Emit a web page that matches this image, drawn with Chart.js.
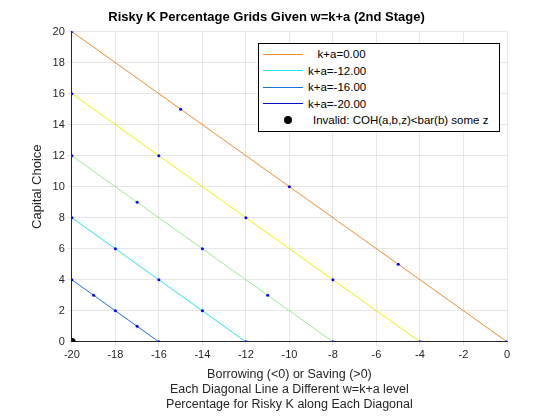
<!DOCTYPE html>
<html><head><meta charset="utf-8">
<script src="https://cdn.jsdelivr.net/npm/chart.js@4"></script>
<style>
body{margin:0;background:#fff;font-family:Arial,"Liberation Sans",sans-serif;}
#wrap{position:relative;width:560px;height:420px;}
#legend{position:absolute;left:258px;top:43px;width:240px;border:1px solid #000;background:#fff;font-size:11.5px;padding:2px 0;}
#legend div{height:16.5px;line-height:16.5px;display:flex;align-items:center;}
#legend .ln{display:inline-block;width:40px;height:0;border-top:1px solid;margin:0 5px 0 4px;}
#legend .dt{display:inline-block;width:8px;height:8px;border-radius:50%;background:#000;margin:0 21px 0 25px;}
</style></head><body>
<div id="wrap"><canvas id="c" width="560" height="420"></canvas>
<div id="legend">
<div><span class="ln" style="border-color:#ed8c2c"></span>&nbsp;&nbsp;&nbsp;k+a=0.00</div>
<div><span class="ln" style="border-color:#22e0e8"></span>k+a=-12.00</div>
<div><span class="ln" style="border-color:#1a6fdc"></span>k+a=-16.00</div>
<div><span class="ln" style="border-color:#0010c8"></span>k+a=-20.00</div>
<div><span class="dt"></span>Invalid: COH(a,b,z)&lt;bar(b) some z</div>
</div></div>
<script>
// one diagonal per w=k+a level; points where risky K share sits
const levels = [0, -4, -8, -12, -16];
const lineColors = ['#ed8c2c', '#f0f000', '#90f090', '#22e0e8', '#1a6fdc'];
const gridB = [
  [-20, -15, -10, -5, 0],
  [-20, -16, -12, -8, -4],
  [-20, -17, -14, -11, -8],
  [-20, -18, -16, -14, -12],
  [-20, -19, -18, -17, -16]
];
const gridK = [
  [20, 15, 10, 5, 0],
  [16, 12, 8, 4, 0],
  [12, 9, 6, 3, 0],
  [8, 6, 4, 2, 0],
  [4, 3, 2, 1, 0]
];
const invalidB = [-20];
const invalidK = [0];

const datasets = [];
levels.forEach((w, i) => {
  datasets.push({
    type: 'line',
    data: gridB[i].map((b, j) => ({x: b, y: gridK[i][j]})),
    borderColor: lineColors[i], borderWidth: 1,
    pointRadius: 1.5, pointBackgroundColor: '#0000ff', pointBorderWidth: 0,
    fill: false, tension: 0
  });
});
datasets.push({
  type: 'scatter',
  data: invalidB.map((b, j) => ({x: b, y: invalidK[j]})),
  pointRadius: 3.5, backgroundColor: '#000', borderColor: '#000'
});

new Chart(document.getElementById('c'), {
  type: 'scatter',
  data: {datasets},
  options: {
    responsive: false, animation: false,
    layout: {padding: {left: 26, right: 53, top: 6, bottom: 4}},
    plugins: {
      legend: {display: false},
      title: {display: true, text: 'Risky K Percentage Grids Given w=k+a (2nd Stage)',
        color: '#000', font: {size: 13, weight: 'bold', family: 'Arial'}, padding: {top: 4, bottom: 6}}
    },
    scales: {
      x: {min: -20, max: 0,
        ticks: {stepSize: 2, color: '#262626', font: {size: 11}},
        grid: {color: '#e6e6e6', tickLength: 4},
        border: {color: '#262626'},
        title: {display: true, color: '#262626', font: {size: 12.5}, padding: {top: 2},
          text: ['Borrowing (<0) or Saving (>0)', 'Each Diagonal Line a Different w=k+a level', 'Percentage for Risky K along Each Diagonal']}},
      y: {min: 0, max: 20,
        ticks: {stepSize: 2, color: '#262626', font: {size: 11}},
        grid: {color: '#e6e6e6', tickLength: 4},
        border: {color: '#262626'},
        title: {display: true, text: 'Capital Choice', color: '#262626', font: {size: 13}}}
    }
  }
});
</script></body></html>
